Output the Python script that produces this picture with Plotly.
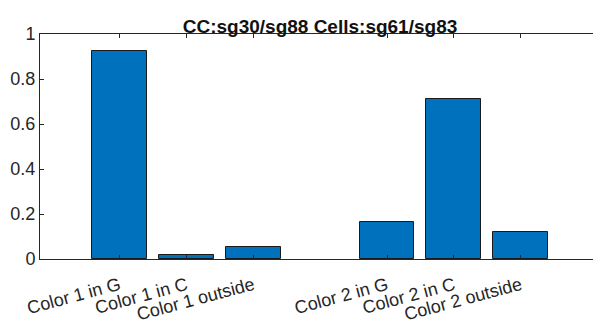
import plotly.graph_objects as go

categories = ["Color 1 in G", "Color 1 in C", "Color 1 outside",
              "Color 2 in G", "Color 2 in C", "Color 2 outside"]
positions = [1, 2, 3, 5, 6, 7]
values = [0.926, 0.017, 0.053, 0.164, 0.711, 0.121]
y_ticks = [0, 0.2, 0.4, 0.6, 0.8, 1]
y_tick_labels = ["0", "0.2", "0.4", "0.6", "0.8", "1"]
title_text = "CC:sg30/sg88 Cells:sg61/sg83"

axis_color = "#262626"
font_family = "Liberation Sans, Arial, Helvetica, sans-serif"

# the page body adds an 8px margin, so the figure is sized to compensate
W, H = 593, 314

fig = go.Figure()
fig.add_trace(go.Bar(
    x=positions, y=values, width=0.82,
    marker=dict(color="#0072BD", line=dict(color="#1a1a1a", width=1)),
    showlegend=False,
))

fig.update_layout(
    width=W, height=H,
    margin=dict(l=32, r=0, t=26, b=63, autoexpand=False),
    paper_bgcolor="white", plot_bgcolor="white",
    font=dict(family=font_family, size=17, color=axis_color),
    title=dict(text="<b>" + title_text + "</b>", x=312 / W, xanchor="center",
               xref="container",
               y=1 - 18 / H, yanchor="middle", yref="container",
               font=dict(size=19, color="#111111")),
    bargap=0,
)
fig.update_xaxes(
    range=[-0.19, 8.2], tickvals=positions, ticktext=categories,
    tickangle=-15, ticks="inside", ticklen=4, tickcolor=axis_color,
    ticklabelstandoff=8,
    showline=True, linecolor=axis_color, linewidth=1, mirror="ticks",
    showgrid=False, zeroline=False, automargin=False,
    tickfont=dict(size=18, color=axis_color),
)
fig.update_yaxes(
    range=[0, 1], tickvals=y_ticks, ticktext=y_tick_labels,
    ticks="inside", ticklen=4, tickcolor=axis_color,
    showline=True, linecolor=axis_color, linewidth=1, mirror="ticks",
    showgrid=False, zeroline=False, automargin=False,
    tickfont=dict(size=18, color=axis_color),
)

fig.write_html("out.html")
